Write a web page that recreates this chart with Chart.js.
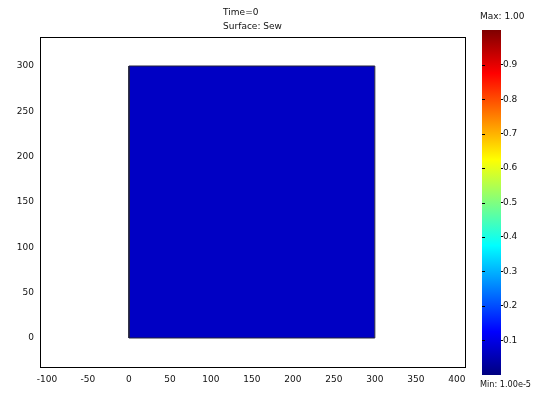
<!DOCTYPE html>
<html>
<head>
<meta charset="utf-8">
<script src="https://cdn.jsdelivr.net/npm/chart.js@4.4.1/dist/chart.umd.min.js"></script>
<style>
  html, body { margin: 0; padding: 0; background: #fff; }
  #wrap { position: relative; width: 535px; height: 402px; overflow: hidden; }
  #main { position: absolute; left: 0; top: 0; }
  #legend { position: absolute; left: 470px; top: 0; }
</style>
</head>
<body>
<div id="wrap">
  <canvas id="main" width="535" height="402"></canvas>
  <canvas id="legend" width="65" height="402"></canvas>
</div>
<script>
// Plot header
const titleLines = ['Time=0', 'Surface: Sew'];

// Square domain boundary, corner by corner
const domainX = [0, 300, 300, 0, 0];
const domainY = [0, 0, 300, 300, 0];

// Axis extents and tick labels
const xRange = [-108.5, 410];
const yRange = [-32, 332];
const xTicks = [-100, -50, 0, 50, 100, 150, 200, 250, 300, 350, 400];
const yTicks = [0, 50, 100, 150, 200, 250, 300];

// Colour range of the surface plot
const colorMin = 1.00e-5;
const colorMax = 1.00;
const colorTicks = [0.1, 0.2, 0.3, 0.4, 0.5, 0.6, 0.7, 0.8, 0.9];

const FONT = { family: '"DejaVu Sans", sans-serif', size: 9 };
const TEXT = '#111';

// jet colour map stops
const jetStops = [
  [0.000, '#000080'],
  [0.125, '#0000ff'],
  [0.375, '#00ffff'],
  [0.625, '#ffff00'],
  [0.875, '#ff0000'],
  [1.000, '#800000']
];

// The surface: top edge of the domain filled down to its bottom edge
const domainTop = Math.max(...domainY);
const domainBottom = Math.min(...domainY);
const topEdge = domainX
  .map((x, i) => ({ x, y: domainY[i] }))
  .filter(p => p.y === domainTop)
  .sort((a, b) => a.x - b.x);

const framePlugin = {
  id: 'frame',
  afterDatasetsDraw(chart) {
    const { ctx, chartArea: a } = chart;
    ctx.save();
    ctx.strokeStyle = '#000';
    ctx.lineWidth = 1;
    ctx.strokeRect(Math.round(a.left) + 0.5, Math.round(a.top) + 0.5,
                   Math.round(a.right - a.left), Math.round(a.bottom - a.top));
    ctx.restore();
  },
  afterDraw(chart) {
    const { ctx, chartArea: a } = chart;
    ctx.save();
    ctx.font = FONT.size + 'px ' + FONT.family;
    ctx.fillStyle = TEXT;
    ctx.textBaseline = 'middle';
    ctx.textAlign = 'left';
    const w = Math.max(...titleLines.map(t => ctx.measureText(t).width));
    const x0 = (a.left + a.right) / 2 - w / 2;
    titleLines.forEach((t, i) => ctx.fillText(t, x0, 13 + i * 14));
    ctx.restore();
  }
};

new Chart(document.getElementById('main'), {
  type: 'scatter',
  data: {
    datasets: [{
      // domain outline
      data: domainX.map((x, i) => ({ x, y: domainY[i] })),
      showLine: true,
      fill: false,
      borderColor: '#23233a',
      borderWidth: 1,
      pointRadius: 0,
      tension: 0,
      order: 0
    }, {
      // surface colour
      data: topEdge,
      showLine: true,
      fill: { value: domainBottom },
      backgroundColor: '#0000c4',
      borderColor: 'rgba(0,0,0,0)',
      borderWidth: 0,
      pointRadius: 0,
      tension: 0,
      order: 1
    }]
  },
  options: {
    responsive: false,
    animation: false,
    devicePixelRatio: 1,
    layout: { padding: { left: 0, top: 37, right: 70, bottom: 0 } },
    plugins: {
      legend: { display: false }, tooltip: { enabled: false }, title: { display: false },
      filler: { drawTime: 'beforeDatasetsDraw' }
    },
    scales: {
      x: {
        type: 'linear', min: xRange[0], max: xRange[1],
        grid: { display: false, drawTicks: false },
        border: { display: false },
        ticks: { padding: 7, font: FONT, color: TEXT, maxRotation: 0, autoSkip: false },
        afterBuildTicks: s => { s.ticks = xTicks.map(v => ({ value: v })); },
        afterFit: s => { s.height = 35; }
      },
      y: {
        type: 'linear', min: yRange[0], max: yRange[1],
        grid: { display: false, drawTicks: false },
        border: { display: false },
        ticks: { padding: 6, font: FONT, color: TEXT, autoSkip: false },
        afterBuildTicks: s => { s.ticks = yTicks.map(v => ({ value: v })); },
        afterFit: s => { s.width = 40; }
      }
    }
  },
  plugins: [framePlugin]
});

// Colour bar
const legendPlugin = {
  id: 'legendText',
  afterDatasetsDraw(chart) {
    const { ctx, chartArea: a, scales } = chart;
    const y = scales.y;
    ctx.save();
    ctx.strokeStyle = '#000';
    ctx.lineWidth = 1;
    colorTicks.forEach(v => {
      const py = Math.round(y.getPixelForValue(v)) + 0.5;
      ctx.beginPath();
      ctx.moveTo(a.left, py);
      ctx.lineTo(a.left + 3, py);
      ctx.stroke();
    });
    ctx.font = FONT.size + 'px ' + FONT.family;
    ctx.fillStyle = TEXT;
    ctx.textBaseline = 'middle';
    ctx.textAlign = 'left';
    ctx.fillText('Max: ' + colorMax.toFixed(2), a.left - 2, 17);
    ctx.fillText('Min: ' + colorMin.toExponential(2), a.left - 2, a.bottom + 9, 51);
    ctx.restore();
  }
};

new Chart(document.getElementById('legend'), {
  type: 'bar',
  data: {
    labels: [''],
    datasets: [{
      data: [[colorMin, colorMax]],
      barPercentage: 1,
      categoryPercentage: 1,
      borderWidth: 0,
      backgroundColor: (c) => {
        const ch = c.chart;
        if (!ch.chartArea) return '#000080';
        const ys = ch.scales.y;
        const g = ch.ctx.createLinearGradient(0, ys.getPixelForValue(colorMin), 0, ys.getPixelForValue(colorMax));
        jetStops.forEach(([p, col]) => g.addColorStop(p, col));
        return g;
      }
    }]
  },
  options: {
    responsive: false,
    animation: false,
    devicePixelRatio: 1,
    layout: { padding: { left: 12, top: 29, right: 0, bottom: 26 } },
    plugins: { legend: { display: false }, tooltip: { enabled: false } },
    scales: {
      x: { display: false },
      y: {
        position: 'right',
        min: -0.004, max: 1.004,
        grid: { display: true, drawOnChartArea: false, drawTicks: true, tickLength: 2, color: '#000' },
        border: { display: false },
        ticks: { padding: 0, font: FONT, color: TEXT, autoSkip: false, callback: v => v.toFixed(1) },
        afterBuildTicks: s => { s.ticks = colorTicks.map(v => ({ value: v })); },
        afterFit: s => { s.width = 34; }
      }
    }
  },
  plugins: [legendPlugin]
});
</script>
</body>
</html>
